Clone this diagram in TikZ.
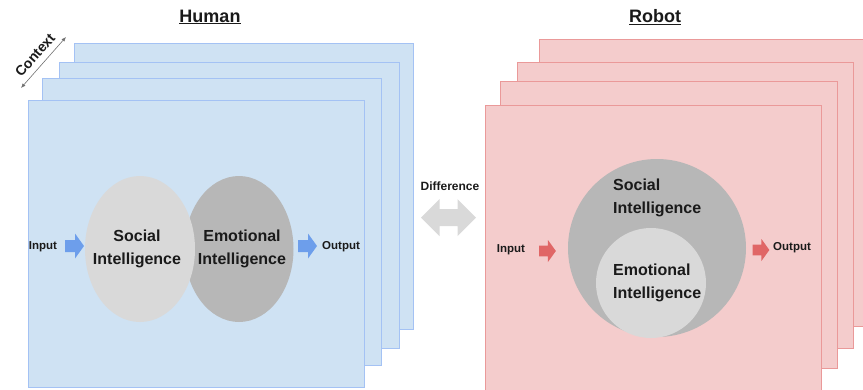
\documentclass[tikz,border=0pt]{standalone}
\usepackage{fontspec}
\setmainfont{Liberation Sans}
\usepackage{tikz}
\usetikzlibrary{arrows.meta,positioning,shapes.geometric}
\definecolor{eiHumanFill}{HTML}{CFE2F3}
\definecolor{eiHumanLine}{HTML}{A4C2F4}
\definecolor{eiRobotFill}{HTML}{F4CCCC}
\definecolor{eiRobotLine}{HTML}{EA9999}
\definecolor{eiHumanArrow}{HTML}{6D9EEB}
\definecolor{eiRobotArrow}{HTML}{E06666}
\definecolor{eiLight}{HTML}{D9D9D9}
\definecolor{eiDark}{HTML}{B7B7B7}
\definecolor{eiInk}{HTML}{1A1A1A}
\definecolor{eiMuted}{HTML}{707070}
\tikzset{
  ei diagram/.style={x=1pt, y=-1pt, font=\bfseries, text=eiInk},
  ei layer/.style={line width=0.8pt},
  ei human layer/.style={ei layer, draw=eiHumanLine, fill=eiHumanFill},
  ei robot layer/.style={ei layer, draw=eiRobotLine, fill=eiRobotFill},
  ei blob text/.style={inner sep=0pt, font=\bfseries\fontsize{16}{23}\selectfont},
  ei title/.style={font=\bfseries\fontsize{18}{22}\selectfont},
  ei small/.style={font=\bfseries\fontsize{11.5}{14}\selectfont, inner sep=0pt},
  ei block/.pic={
    \fill[pic actions] (-9.5,-6) -- (0.5,-6) -- (0.5,-12.5) -- (9.5,0)
      -- (0.5,12.5) -- (0.5,6) -- (-9.5,6) -- cycle;
  },
  ei diff/.pic={
    \fill[pic actions] (-27.5,0) -- (-9,-18.5) -- (-9,-8.5) -- (9,-8.5)
      -- (9,-18.5) -- (27.5,0) -- (9,18.5) -- (9,8.5) -- (-9,8.5)
      -- (-9,18.5) -- cycle;
  },
  ei axis/.style={{Latex[length=1.6mm,width=1.3mm]}-{Latex[length=1.6mm,width=1.3mm]},
    draw=eiMuted, line width=0.6pt}
}
\begin{document}
\begin{tikzpicture}[ei diagram]
\useasboundingbox (0,0) rectangle (863,389);

% human stack
\node[ei title] (humantitle) at (210,17) {\underline{Human}};
\foreach \xa/\ya/\xb/\yb in {74/43/413/329, 59/62/399/348, 42/78/381/365, 28/100/364/387}
  \draw[ei human layer] (\xa,\ya) rectangle (\xb,\yb);
\coordinate (ctxlow) at (21,88);
\coordinate (ctxhigh) at (66,37);
\draw[ei axis] (ctxlow) -- node[sloped, above=6pt, inner sep=0pt,
  font=\bfseries\fontsize{14}{16}\selectfont] (context) {Context} (ctxhigh);

\node[ellipse, fill=eiDark, minimum width=109pt, minimum height=146pt]
  (humanemo) at (239,249) {};
\node[ellipse, fill=eiLight, minimum width=110pt, minimum height=146pt]
  (humansoc) at (140,249) {};
\node[ei blob text, align=center] (humansoctext) at (137,249) {Social\\Intelligence};
\node[ei blob text, align=center] (humanemotext) at (242,249) {Emotional\\Intelligence};
\pic[fill=eiHumanArrow] (humanin) at (74.5,246) {ei block};
\node[ei small] (humaninput) at (43,247) {Input};
\pic[fill=eiHumanArrow] (humanout) at (307.5,246) {ei block};
\node[ei small, anchor=west] (humanoutput) at (322,247) {Output};

% difference
\node[ei small, font=\bfseries\fontsize{12}{14}\selectfont] (difftext) at (450,186) {Difference};
\pic[fill=eiLight] (diff) at (448.5,217.5) {ei diff};

% robot stack
\node[ei title] (robottitle) at (655,17) {\underline{Robot}};
\foreach \xa/\ya/\xb/\yb in {539/39/870/326, 517/62/853/348, 500/81/837/368, 485/105/821/395}
  \draw[ei robot layer] (\xa,\ya) rectangle (\xb,\yb);
\node[circle, fill=eiDark, minimum size=178pt] (robotsoc) at (657,248) {};
\node[circle, fill=eiLight, minimum size=110pt] (robotemo) at (651,283) {};
\node[ei blob text, align=left, anchor=west] (robotsoctext) at (613,198) {Social\\Intelligence};
\node[ei blob text, align=left, anchor=west] (robotemotext) at (613,283) {Emotional\\Intelligence};
\pic[fill=eiRobotArrow, scale=0.88] (robotin) at (547.5,251) {ei block};
\node[ei small] (robotinput) at (511,250) {Input};
\pic[fill=eiRobotArrow, scale=0.88] (robotout) at (761,250) {ei block};
\node[ei small, anchor=west] (robotoutput) at (773,248) {Output};
\end{tikzpicture}
\end{document}
